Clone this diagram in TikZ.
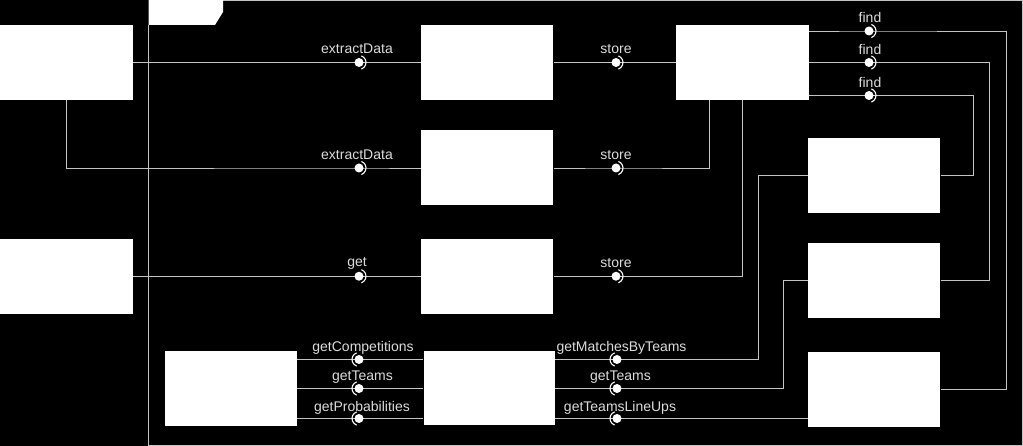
\documentclass[tikz,border=0pt]{standalone}
\usepackage{fontspec}
\setmainfont{Liberation Sans}
\definecolor{linec}{HTML}{C4C4C4}
\definecolor{labc}{HTML}{DCDCDC}
\begin{document}
\begin{tikzpicture}[x=1pt,y=-1pt,
  box/.style={rectangle,fill=white,inner sep=0pt,minimum width=132pt,minimum height=75pt},
  conn/.style={draw=linec,line width=0.9pt},
  ball/.style={circle,fill=white,inner sep=0pt,minimum size=9pt},
  lab/.style={text=labc,font=\fontsize{14}{16}\selectfont,inner sep=0pt},
  sockR/.style={draw=white,line width=1.1pt},
  frame/.style={draw=linec,line width=1pt}]
\useasboundingbox[fill=black] (0,0) rectangle (1023,446);
% package frame
\draw[frame] (148.5,25) -- (148.5,445) -- (1022,445) -- (1022,0.6) -- (223,0.6);
\fill[white] (148.5,0) -- (223,0) -- (223,12) -- (215,25) -- (148.5,25) -- cycle;
% boxes
\node[box,minimum width=132.5pt] (A) at (66.25,62.5) {};
\node[box,minimum width=132.5pt] (B) at (66.25,276.25) {};
\node[box] (C) at (487.4,62.5) {};
\node[box] (D) at (487.4,168) {};
\node[box] (E) at (487.4,276.25) {};
\node[box,minimum width=132.5pt] (F) at (742.25,62.5) {};
\node[box] (G) at (874.4,175.2) {};
\node[box] (H) at (874.4,280.7) {};
\node[box] (I) at (874.4,389.3) {};
\node[box,minimum height=74pt] (J) at (230.6,388.5) {};
\node[box,minimum width=131.5pt,minimum height=74.5pt] (K) at (489.25,388) {};
% ball positions
\coordinate (b1) at (359,62.5);
\coordinate (b2) at (359,168);
\coordinate (b3) at (359,276.25);
\coordinate (b4) at (616,62.5);
\coordinate (b5) at (616,168);
\coordinate (b6) at (616,276.25);
\coordinate (b7) at (869,31);
\coordinate (b8) at (869,62.5);
\coordinate (b9) at (869,95.5);
\coordinate (b10) at (359,359.5);
\coordinate (b11) at (359,388.5);
\coordinate (b12) at (359,418.5);
\coordinate (b13) at (617,359.5);
\coordinate (b14) at (617,388.5);
\coordinate (b15) at (617,418.5);
% connectors
\draw[conn] (A.east) -- (b1) -- (C.west);
\draw[conn] (A.south) |- (b2) -- (D.west);
\draw[conn] (B.east) -- (b3) -- (E.west);
\draw[conn] (C.east) -- (b4) -- (F.west);
\draw[conn] (D.east) -- (b5) -| ([xshift=-33pt]F.south);
\draw[conn] (E.east) -- (b6) -| (F.south);
\draw[conn] (b7 -| F.east) -- (b7) -- (1006,31) |- (I.east);
\draw[conn] (F.east) -- (b8) -- (989.5,62.5) |- (H.east);
\draw[conn] (b9 -| F.east) -- (b9) -- (973.5,95.5) |- (G.east);
\draw[conn] (b10 -| J.east) -- (b10) -- (b10 -| K.west);
\draw[conn] (b11 -| J.east) -- (b11) -- (b11 -| K.west);
\draw[conn] (b12 -| J.east) -- (b12) -- (b12 -| K.west);
\draw[conn] (b13 -| K.east) -- (b13) -- (758.7,359.5) |- (G.west);
\draw[conn] (b14 -| K.east) -- (b14) -- (783.3,388.5) |- (H.west);
\draw[conn] (b15 -| K.east) -- (b15) -- (b15 -| I.west);
% lollipops: socket arcs
\foreach \p in {b1,b2,b3,b4,b5,b6,b7,b8,b9}{
  \draw[sockR] ([shift={(70:7pt)}]\p) arc[start angle=70,end angle=-70,radius=7pt];
}
\foreach \p in {b10,b11,b12,b13,b14,b15}{
  \draw[sockR] ([shift={(110:7pt)}]\p) arc[start angle=110,end angle=250,radius=7pt];
}
\node[ball] (o1) at (b1) {};
\node[ball] (o2) at (b2) {};
\node[ball] (o3) at (b3) {};
\node[ball] (o4) at (b4) {};
\node[ball] (o5) at (b5) {};
\node[ball] (o6) at (b6) {};
\node[ball] (o7) at (b7) {};
\node[ball] (o8) at (b8) {};
\node[ball] (o9) at (b9) {};
\node[ball] (o10) at (b10) {};
\node[ball] (o11) at (b11) {};
\node[ball] (o12) at (b12) {};
\node[ball] (o13) at (b13) {};
\node[ball] (o14) at (b14) {};
\node[ball] (o15) at (b15) {};
% labels
\node[lab] (l1) at (357,49) {extractData};
\node[lab] (l2) at (357,155) {extractData};
\node[lab] (l3) at (357,263.5) {get};
\node[lab] (l4) at (616,49) {store};
\node[lab] (l5) at (616,155) {store};
\node[lab] (l6) at (616,263.5) {store};
\node[lab] (l7) at (870,17.5) {find};
\node[lab] (l8) at (870,49) {find};
\node[lab] (l9) at (870,82) {find};
\node[lab] (l10) at (363,348) {getCompetitions};
\node[lab] (l11) at (362.5,377.5) {getTeams};
\node[lab] (l12) at (362,407.5) {getProbabilities};
\node[lab] (l13) at (621.5,348) {getMatchesByTeams};
\node[lab] (l14) at (620.5,377.5) {getTeams};
\node[lab] (l15) at (620,407.5) {getTeamsLineUps};
\end{tikzpicture}
\end{document}
